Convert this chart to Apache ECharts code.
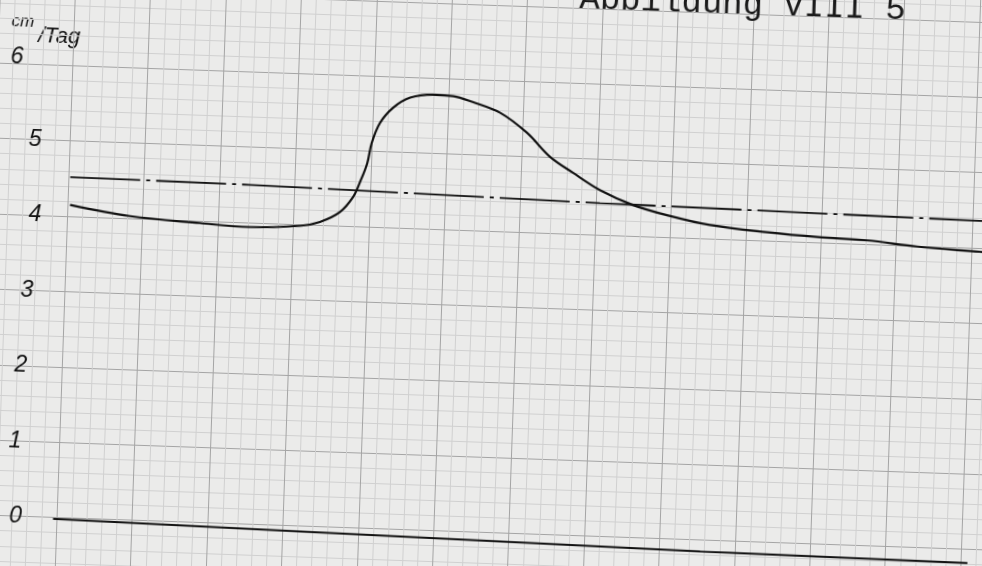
<!DOCTYPE html>
<html>
<head>
<meta charset="utf-8">
<title>VIII 5</title>
<script src="https://cdn.jsdelivr.net/npm/echarts@6/dist/echarts.min.js"></script>
<style>
  html, body { margin: 0; width: 982px; height: 566px; overflow: hidden; background: #ebebea; }
  /* the sheet sits slightly crooked on the scanner */
  #chart { position: absolute; left: -30px; top: -30px; width: 1042px; height: 626px; transform: rotate(2deg); }
</style>
</head>
<body>
<div id="chart"></div>
<script>
// x: big squares of the paper from where the curves start, y: cm/Tag
const rateX = [0.03, 0.83, 1.76, 2.42, 3.09, 3.35, 3.61, 3.78, 3.86, 3.95, 4.00, 4.10, 4.27, 4.49, 4.79, 5.06, 5.32, 5.69, 6.05, 6.37, 6.68, 7.05, 7.49, 7.95, 8.52, 9.28, 9.95, 10.61, 11.28, 12.11, 12.3];
const rateY = [4.15, 4.03, 3.97, 3.94, 3.98, 4.04, 4.18, 4.39, 4.58, 4.84, 5.11, 5.38, 5.59, 5.73, 5.78, 5.77, 5.70, 5.57, 5.32, 5.01, 4.81, 4.59, 4.41, 4.29, 4.18, 4.11, 4.07, 4.05, 3.99, 3.95, 3.94];

const meanX = [0.02, 2.41, 7.05, 12.1, 12.3];
const meanY = [4.52, 4.50, 4.42, 4.36, 4.36];

const baseX = [-0.05, 3.23, 8.54, 12.09];
const baseY = [-0.02, -0.07, -0.15, -0.18];

const tickLabels = ['0', '1', '2', '3', '4', '5', '6'];
const unitLabel = 'cm/Tag';
const titleText = 'Abbildung VIII 5';

const zip = (xs, ys) => xs.map((x, i) => [x, ys[i]]);

const chart = echarts.init(document.getElementById('chart'));

const paperAxis = {
  type: 'value',
  interval: 1,
  axisLine: {show: false},
  axisTick: {show: false},
  axisLabel: {show: false},
  splitLine: {show: true, lineStyle: {color: '#a4a4a4', width: 1}},
  minorTick: {show: false, splitNumber: 5},
  minorSplitLine: {show: true, lineStyle: {color: '#d0d0d0', width: 1}},
};

const hand = {fontFamily: 'Liberation Sans', fontStyle: 'italic', color: '#111'};

chart.setOption({
  animation: false,
  backgroundColor: '#ebebea',
  title: {
    text: titleText,
    right: 116,
    top: 9,
    padding: 0,
    textStyle: {fontFamily: 'Liberation Mono', fontSize: 34, fontWeight: 'normal', color: '#1a1a1a'},
  },
  grid: {left: -55.5, top: -40.6, width: 1131, height: 678.6, outerBoundsMode: 'none'},
  xAxis: {...paperAxis, min: -2, max: 13},
  yAxis: [
    {...paperAxis, min: -1, max: 8},
    {
      type: 'value',
      min: -1,
      max: 8,
      interval: 1,
      position: 'left',
      offset: -109.5,
      axisLine: {show: false},
      axisTick: {show: false},
      splitLine: {show: false},
      axisLabel: {
        margin: 0,
        align: 'center',
        formatter: (v) => (tickLabels.includes(String(v)) ? `{t${v}|${v}}` : ''),
        rich: {
          t0: {...hand, fontSize: 23},
          t1: {...hand, fontSize: 23, padding: [0, 6, 0, 0]},
          t2: {...hand, fontSize: 23},
          t3: {...hand, fontSize: 23, padding: [0, 0, 0, 7]},
          t4: {...hand, fontSize: 23, padding: [0, 0, 0, 18]},
          t5: {...hand, fontSize: 23, padding: [0, 0, 0, 13]},
          t6: {...hand, fontSize: 23, padding: [0, 29, 13, 0]},
        },
      },
    },
  ],
  graphic: [
    {type: 'text', x: 44, y: 68, style: {text: unitLabel.split('/')[0], ...hand, fontSize: 17, align: 'center', verticalAlign: 'middle', fill: '#111'}},
    {type: 'text', x: 81, y: 82, style: {text: '/' + unitLabel.split('/')[1], ...hand, fontSize: 22, align: 'center', verticalAlign: 'middle', fill: '#111'}},
  ],
  series: [
    {
      type: 'line',
      data: zip(baseX, baseY),
      symbol: 'none',
      lineStyle: {color: '#111', width: 2},
    },
    {
      type: 'line',
      data: zip(meanX, meanY),
      symbol: 'none',
      lineStyle: {color: '#111', width: 1.8, type: [70, 6, 4, 6]},
    },
    {
      type: 'line',
      data: zip(rateX, rateY),
      symbol: 'none',
      smooth: 0.35,
      lineStyle: {color: '#111', width: 2.2},
    },
  ],
});
</script>
</body>
</html>
